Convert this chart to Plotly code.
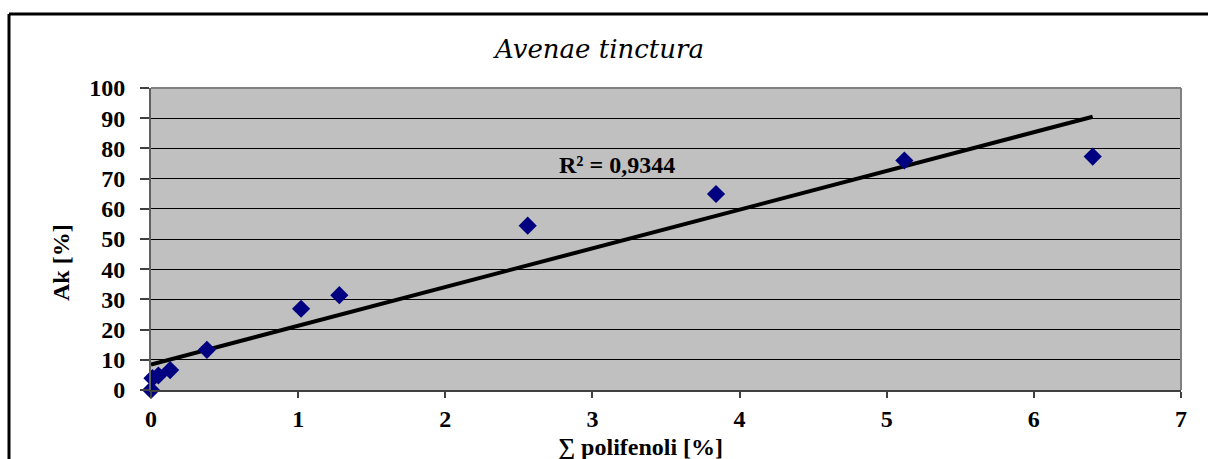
import numpy as np
import plotly.graph_objects as go

# Total polyphenols [%] and antioxidant capacity Ak [%]
polifenoli = [0.0, 0.01, 0.05, 0.13, 0.38, 1.02, 1.28, 2.56, 3.84, 5.12, 6.40]
ak = [0.0, 3.9, 4.8, 6.6, 13.3, 26.9, 31.4, 54.4, 64.9, 76.0, 77.3]

x_ticks = [0, 1, 2, 3, 4, 5, 6, 7]
y_ticks = [0, 10, 20, 30, 40, 50, 60, 70, 80, 90, 100]

r2_label = "R² = 0,9344"
title_text = "Avenae tinctura"
x_title = "∑ polifenoli [%]"
y_title = "Ak [%]"

# Linear trend line fitted to the measurements
slope, intercept = np.polyfit(polifenoli, ak, 1)
trend_x = [min(polifenoli), max(polifenoli)]
trend_y = [slope * v + intercept for v in trend_x]

serif = "Liberation Serif"

fig = go.Figure()
fig.add_trace(go.Scatter(
    x=trend_x, y=trend_y, mode="lines",
    line=dict(color="black", width=4),
    hoverinfo="skip", showlegend=False,
))
fig.add_trace(go.Scatter(
    x=polifenoli, y=ak, mode="markers",
    marker=dict(symbol="diamond", size=14, color="#000080", line=dict(width=0)),
    cliponaxis=False, showlegend=False,
))

W, H = 1208, 459
L, R, T, B = 151, 27, 88, 69
PW, PH = W - L - R, H - T - B

fig.update_layout(
    width=W, height=H,
    margin=dict(l=L, r=R, t=T, b=B),
    paper_bgcolor="white",
    plot_bgcolor="#C0C0C0",
    font=dict(family=serif, color="black"),
    xaxis=dict(
        range=[0, 7], tickvals=x_ticks, ticktext=[str(v) for v in x_ticks],
        showgrid=False, zeroline=False,
        showline=True, linecolor="#404040", linewidth=2,
        ticks="outside", ticklen=6, tickcolor="#404040", tickwidth=1.5,
        ticklabelstandoff=0,
        tickfont=dict(family=serif, size=24, color="black", weight="bold"),
    ),
    yaxis=dict(
        range=[0, 100], tickvals=y_ticks, ticktext=[str(v) for v in y_ticks],
        showgrid=True, gridcolor="black", gridwidth=1.2,
        zeroline=False,
        showline=True, linecolor="#606060", linewidth=2,
        ticks="outside", ticklen=9, tickcolor="#404040", tickwidth=1.5,
        ticklabelstandoff=10,
        tickfont=dict(family=serif, size=24, color="black", weight="bold"),
    ),
    annotations=[
        dict(text=title_text, xref="paper", yref="paper",
             x=(598 - L) / PW, y=(H - B - 49) / PH,
             xanchor="center", yanchor="middle", showarrow=False,
             font=dict(family="DejaVu Serif", size=26, style="italic",
                       color="black")),
        dict(text=r2_label, xref="x", yref="y", x=3.17, y=74.5,
             xanchor="center", yanchor="middle", showarrow=False,
             font=dict(family=serif, size=24, weight="bold", color="black")),
        dict(text=y_title, xref="paper", yref="paper",
             x=(61 - L) / PW, y=(H - B - 263) / PH,
             xanchor="center", yanchor="middle", textangle=-90, showarrow=False,
             font=dict(family=serif, size=24, weight="bold", color="black")),
        dict(text=x_title, xref="paper", yref="paper",
             x=(640 - L) / PW, y=(H - B - 447) / PH,
             xanchor="center", yanchor="middle", showarrow=False,
             font=dict(family=serif, size=24, weight="bold", color="black")),
    ],
    shapes=[
        # outer chart frame (top and left edges)
        dict(type="line", xref="paper", yref="paper",
             x0=(9 - L) / PW, x1=1.05 + R / PW,
             y0=(H - B - 14) / PH, y1=(H - B - 14) / PH,
             line=dict(color="black", width=3)),
        dict(type="line", xref="paper", yref="paper",
             x0=(9 - L) / PW, x1=(9 - L) / PW,
             y0=(H - B - 14) / PH, y1=-B / PH - 0.05,
             line=dict(color="black", width=3)),
        # plot area border: top and right edges
        dict(type="line", xref="paper", yref="paper", x0=0, x1=1, y0=1, y1=1,
             line=dict(color="#808080", width=2)),
        dict(type="line", xref="paper", yref="paper", x0=1, x1=1, y0=0, y1=1,
             line=dict(color="#808080", width=2)),
    ],
)

fig.write_html("out.html")
